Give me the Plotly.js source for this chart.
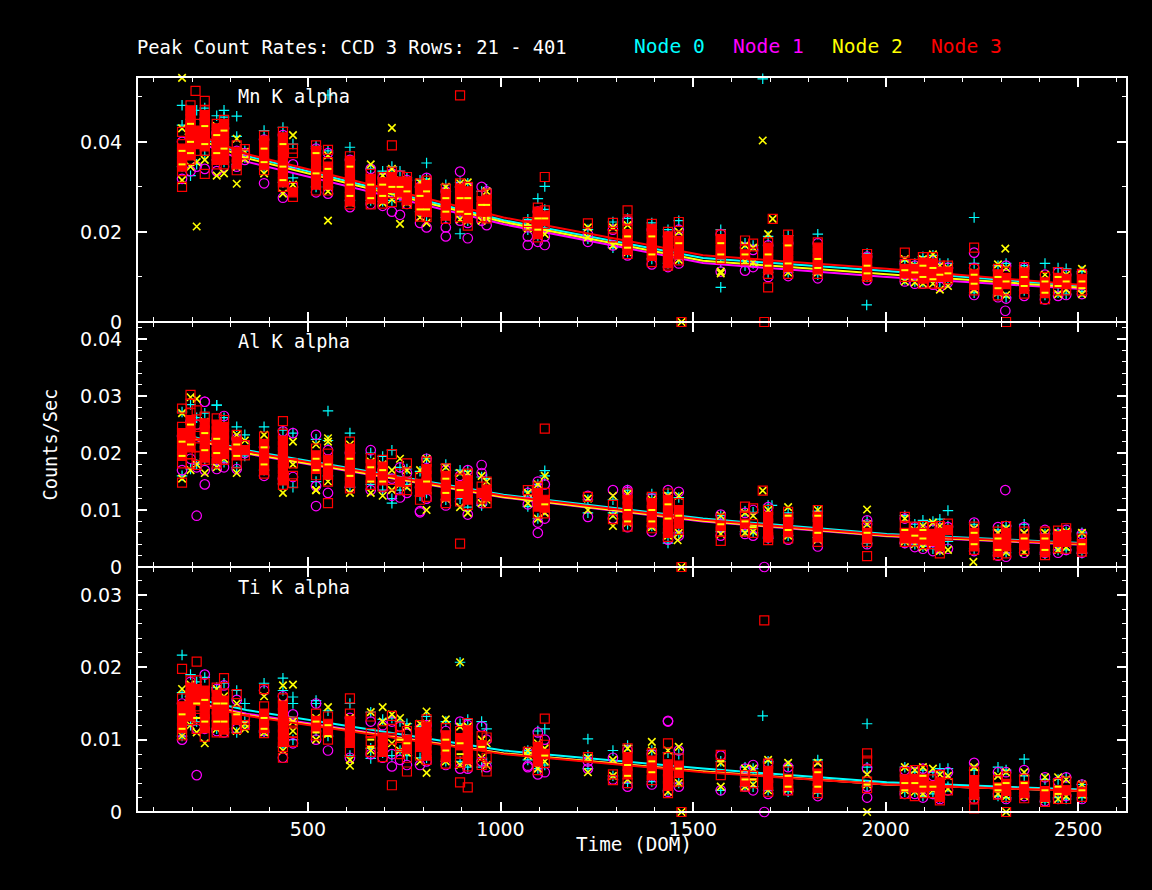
<!DOCTYPE html>
<html><head><meta charset="utf-8"><script src="https://cdn.plot.ly/plotly-3.0.1.min.js"></script>
<style>html,body{margin:0;background:#000}</style></head><body><div id="c" style="width:1152px;height:890px"></div>
<script>
// observation days (DOM) of the columns of points
const cols=[173,195,211,232,263,282,315,336,386,435,461,521,552,609,663,694,718,739,757,791,808,858,895,915,951,964,1071,1097,1115,1227,1292,1330,1393,1435,1463,1572,1635,1656,1695,1747,1824,1952,2050,2076,2097,2123,2141,2162,2230,2292,2313,2360,2414,2448,2469,2510];
// all rates below are in units of 1e-4 counts/sec
const mnNode0=[[437,345],[450,325],[470,350],[475,370],[458,360],[455,355],[412,350],[380,365],[425,340],[432,310],[395,320],[390,300],[380,300],[388,270],[340,270],[335,268],[345,270],[335,280],[320,270],[315,245],[318,235],[305,232],[310,240],[308,225],[290,235],[295,240],[228,205],[274,192],[250,205],[205,185],[222,165],[230,155],[220,140],[205,130],[225,140],[205,132],[175,125],[170,130],[190,110],[192,110],[195,105],[152,100],[135,95],[130,90],[145,90],[148,92],[130,88],[130,95],[130,65],[125,60],[130,55],[125,70],[130,60],[120,65],[118,62],[112,68]];
const mnNode1=[[400,318],[430,335],[420,345],[450,340],[420,335],[430,345],[380,345],[375,360],[405,308],[415,276],[350,300],[385,288],[375,285],[360,255],[340,262],[320,258],[330,245],[325,238],[315,262],[300,220],[320,210],[290,210],[300,225],[300,220],[300,225],[290,215],[215,190],[245,178],[225,190],[195,178],[205,170],[225,148],[205,128],[190,122],[205,130],[195,112],[165,114],[160,122],[170,100],[175,102],[175,97],[145,93],[130,90],[125,85],[130,85],[135,83],[120,78],[120,88],[120,60],[115,55],[125,52],[120,58],[105,50],[110,58],[105,60],[108,62]];
const mnNode2=[[430,315],[445,345],[405,355],[440,360],[435,325],[430,330],[407,345],[378,362],[395,330],[400,285],[415,305],[375,305],[370,290],[345,265],[350,270],[325,265],[340,272],[315,280],[310,265],[310,232],[312,220],[300,235],[308,228],[310,225],[270,225],[290,230],[218,208],[240,205],[235,195],[210,188],[210,170],[215,155],[205,150],[190,130],[200,138],[178,112],[170,135],[165,132],[195,115],[170,110],[165,110],[138,100],[140,90],[125,88],[140,85],[150,85],[125,72],[120,80],[110,72],[128,65],[120,60],[115,72],[105,70],[100,62],[105,72],[118,62]];
const mnNode3=[[422,395,385,375,365,355,345,335,300],[481,470,460,450,440,430,420,410,400,390,380,370,360],[440,425,410,395,380],[491,470,460,450,440,430,420,410,400,390,380,329],[440,430,420,410,400,390,380,370,360,350],[449,440,430,420,410,400,390,380,370,360,350],[392,378,366,350,337],[384,372],[414,403,392,381,370,359,348,337],[422,410,400,390,380,370,360,350,340,330,320,310,300],[385,375,300,288,278],[392,380,366,350,335,320,305,292],[382,355,345,335,325,315,305,292],[368,358,348,338,328,318,308,298,288,278,268,261],[329,318,307,296,285,274,261],[322,310,298,286,274,263],[392,334,322,310,298,286,266],[325,312,300,288,277],[322,312,298,284,270,262],[308,296,284,272,260,248,234],[314,304,294,284,274,264,254,244,233],[296,284,272,260,248,236,229],[308,296,284,272,260,248,233],[300,290,280,270,260,250,240,230,214],[281,268,255,245,233],[285,272,258,245,230],[222,214],[254,245,235,225,215,205,195,188],[248,236,226,218],[219],[220,195,188],[248,225,207,195,183,171,160,151],[218,207,197,187,177,167,157,147,133],[200,190,180,170,160,150,140,130,125],[222,192,180,170,160,150,137],[194,184,172,160,150,140],[181,162,150,137],[174,148],[177,165,153,141,129,117,107],[194,182,172,160,148,136,122,107],[177,165,153,141,129,117,107],[151,140,128,116,104,100],[154,129,118,108,100],[129,118,108,100],[144,132,120,108,96,85],[144,130,116,100,85],[125,112,100,85],[125,112,100,95],[118,106,94,82,70],[118,106,94,82,70,59],[112,98,84,70],[122,110,98,86,74,63],[100,88,76,64,51],[111,98,86,70],[107,96,84,70],[107,96,84,70]];
const alNode0=[[272,160],[285,172],[262,180],[270,190],[284,180],[262,184],[246,175],[232,195],[246,170],[240,146],[235,140],[224,150],[222,160],[235,140],[200,145],[194,135],[205,120],[175,135],[172,145],[168,125],[190,130],[180,118],[170,120],[168,105],[158,108],[155,118],[132,106],[145,85],[160,100],[118,95],[118,95],[135,75],[128,72],[130,60],[122,60],[90,62],[98,62],[96,60],[108,50],[95,55],[98,52],[80,42],[90,42],[75,40],[82,36],[80,32],[84,30],[72,45],[75,32],[65,25],[72,25],[75,32],[58,22],[60,30],[62,30],[60,24]];
const alNode1=[[230,170],[255,190],[250,175],[290,170],[225,172],[265,175],[225,172],[215,200],[210,160],[238,155],[235,158],[232,142],[205,130],[200,140],[205,135],[170,140],[155,125],[175,122],[165,130],[140,98],[190,120],[170,108],[160,115],[170,92],[165,112],[135,128],[130,110],[150,78],[145,85],[125,88],[135,85],[135,70],[120,62],[135,48],[132,55],[92,55],[95,58],[100,55],[105,52],[85,48],[90,36],[75,40],[85,42],[70,35],[65,32],[65,28],[68,32],[70,32],[78,28],[70,20],[72,18],[70,25],[65,25],[58,25],[65,30],[58,25]];
const alNode2=[[270,155],[298,170],[295,180],[255,165],[250,175],[240,190],[232,165],[222,205],[232,170],[215,130],[220,180],[215,135],[220,150],[215,130],[185,130],[180,125],[170,135],[190,145],[170,140],[170,130],[190,100],[175,120],[165,105],[165,95],[160,112],[150,118],[130,112],[145,85],[160,95],[120,100],[125,90],[128,78],[118,70],[125,55],[125,60],[90,58],[95,60],[90,62],[100,55],[105,55],[100,48],[75,48],[85,45],[65,40],[72,35],[78,42],[72,28],[65,30],[68,40],[60,30],[68,26],[60,26],[60,30],[60,30],[62,35],[60,30]];
const alNode3=[[278,246,235,225,215,205,195,182,148],[302,287,270,258,246,234,222,210,198,182],[275,250,230,210,195,179],[264,252,240,228,216,204,192,188],[261,250,238,226,214,202,190,182],[258,246,234,222,210,198,188],[232,220,208,196,182],[214,205,196],[229,216,204,192,180,170,164],[256,234,222,212,202,192,182,172,162,152,144],[182,160,147],[208,196,184,172,161],[199,188,176,162,150],[220,208,196,184,172,160,148,138],[191,180,168,156,144],[188,176,164,152,141],[198,153,143],[164,150,135],[182,150,135],[158,146,132,118],[185,172,160,148,136,123],[173,160,148,136,124,112],[155,142,130,115],[164,152,140,128,118,109],[141,130,120],[150,136,124,112],[135],[141,130,118,106,94],[130,118,104,94],[123],[109,84],[129,118,106,94,82,71],[123,112,100,88,78,68],[129,118,106,94,82,70,60,53],[112,100,88,76,65],[85,72,62],[106,88,76,62],[103,75,60],[100,88,76,64,52,47],[97,85,73,61,50],[100,88,76,64,52,44],[71,60,50,44],[88,71,60,50,44],[71,60,50,45],[72,60,48,40],[70,58,46,40],[72,60,48,36,24],[76,65,55],[71,60,48,36,30],[62,50,38,26,21],[72,60,48,36,24],[62,50,38,30],[62,50,38,26,21],[64,54,44,33],[68,56,44,32],[50,40,32,27]];
const tiNode0=[[165,105],[190,120],[180,125],[186,130],[172,115],[178,115],[168,110],[150,125],[178,110],[168,90],[150,100],[150,112],[140,105],[150,78],[138,88],[128,82],[130,78],[125,85],[122,78],[118,75],[132,75],[125,70],[122,70],[128,62],[125,62],[115,68],[85,72],[112,60],[115,65],[78,60],[85,50],[92,40],[85,42],[82,30],[80,40],[70,30],[62,35],[60,35],[70,30],[64,28],[72,26],[62,36],[62,28],[55,28],[58,22],[55,25],[60,20],[60,35],[58,20],[62,22],[58,20],[50,26],[45,14],[45,20],[48,18],[38,20]];
const tiNode1=[[150,100],[180,135],[170,115],[190,115],[170,112],[175,110],[155,115],[130,120],[168,112],[160,75],[135,95],[150,100],[120,85],[130,75],[125,80],[120,75],[125,80],[118,72],[108,65],[115,65],[120,70],[112,65],[125,60],[120,60],[118,70],[100,62],[82,62],[110,52],[100,55],[70,60],[75,45],[85,35],[80,38],[125,28],[85,35],[78,30],[60,35],[65,30],[68,25],[62,30],[60,22],[60,35],[58,25],[55,25],[60,20],[50,25],[52,18],[55,30],[68,18],[55,25],[55,18],[58,22],[48,15],[42,18],[48,22],[38,18]];
const tiNode2=[[170,105],[176,120],[165,110],[150,95],[170,115],[160,112],[150,112],[122,115],[160,110],[150,85],[125,112],[130,100],[145,108],[130,72],[138,85],[125,88],[135,95],[130,85],[118,82],[122,70],[122,80],[128,70],[118,65],[118,68],[100,75],[95,65],[85,78],[95,60],[88,70],[75,55],[72,50],[88,45],[85,55],[85,28],[90,40],[68,35],[60,35],[60,38],[72,30],[68,32],[68,30],[52,38],[62,30],[58,28],[62,25],[60,30],[52,22],[50,32],[62,22],[50,25],[55,22],[55,22],[48,18],[48,18],[45,22],[38,24]];
const tiNode3=[[157,146,136,126,116,106],[182,172,162,152,142,132,127],[182,170,158,146,130,115],[178,168,158,148,138,128,116,104],[172,162,152,142,132,120,110],[185,164,154,144,134,124,114,110],[163,140,128,115],[128,120],[170,146,136,126,116,109],[157,147,137,127,117,107,97,90,75],[125,110,97],[136,126,116,106],[132,122,112,100],[157,136,126,116,106,96,83],[132,109,98,83],[113,103,93,83,76],[133,115,100],[118,105,90,80],[112,100,88,75],[120,110,100,90,78],[128,118,108,98,88,78,72],[116,106,96,86,76,67],[112,102,92,82,68],[123,113,103,93,83,73,63],[105,92,80,65],[103,75,56],[83],[100,90,80,70,58],[93,80,68],[76],[52,44],[88,76,64,52,40],[81,71,61,51,44],[95,76,66,56,46,36,26],[74,64,54,42],[79,63,51],[51,42,35],[50,40],[67,57,47,37,28],[56,46,36,30],[63,53,43,33,26],[81,71,42,33],[55,45,35,25],[58,46,34,22],[58,46,34,26],[45,36,26],[51,41,31,21,16],[40,30],[56,44,34,24,19,5],[44,34,24],[49,39,29,21],[46,36,26,19],[37,29,21,14],[40,30,18],[42,30,18],[35,28,21]];
// yellow points seen through the red bars
const mnFlecks=[[380,350],[440,400,375],[],[435,395],[415,375],[425,385],[],[],[385,355],[395,345,315],[],[375,330],[340],[345,305,280],[305,275],[305,280],[300],[300],[290],[280,250],[290,250],[275,245],[275,245],[275,240],[260],[260],[],[230,205],[230],[],[],[190,165],[190,150],[],[175],[175,150],[150],[],[150,125],[170,130],[140,120],[125,108],[115],[110],[125,100],[120,95],[105],[108],[105,85],[100,75],[90],[100,80],[90,65],[100,80],[90],[90,75]];
const alFlecks=[[220,195],[250,215],[],[235,205],[225,200],[],[215,195],[],[210,180],[],[],[190,170],[180],[190,160],[175,150],[170,150],[],[],[],[],[150],[155,130],[135],[],[],[],[],[],[110],[],[],[100,80],[100,80],[110,85],[90],[75],[80],[70],[],[90,65],[90,60],[60],[65],[55],[65,50],[],[],[],[60,40],[50,30],[],[50],[50,30],[],[],[40]];
const tiFlecks=[[135,115],[],[150,130],[155,125],[150,125],[150,125],[135],[],[130,115],[],[],[125,110],[120,105],[],[100,90],[],[],[100],[95],[],[],[100,85],[95,80],[],[90],[],[],[],[78],[],[],[65,50],[70,55],[],[60],[70],[45],[45],[],[50,35],[55,35],[38],[40,30],[40],[50,35],[35],[],[],[],[38,30],[40],[40],[30],[35,25],[],[30]];
// isolated points: node, day, rate
const mnOutliers=[[2,173,542],[3,208,513],[0,173,481],[0,282,470],[0,315,457],[0,552,504],[2,718,431],[0,808,353],[2,211,212],[2,552,225],[2,315,307],[2,739,218],[1,895,334],[1,858,190],[1,915,186],[0,895,196],[3,895,503],[3,1115,322],[0,1115,301],[1,1071,171],[1,1115,171],[0,1681,540],[2,1681,403],[0,1572,77],[2,1572,108],[2,1707,229],[3,1707,229],[3,1695,77],[0,2230,232],[3,2230,165],[1,2230,154],[2,2311,163],[0,1951,38],[1,2311,25],[3,1470,0],[2,1470,0],[3,1685,0],[3,2313,0]];
const alOutliers=[[1,211,90],[1,232,145],[1,232,290],[0,263,284],[0,552,274],[2,552,226],[1,521,107],[1,951,179],[1,1097,60],[3,895,41],[0,1115,169],[1,791,96],[2,1292,72],[1,1330,132],[0,718,112],[2,521,135],[3,552,112],[3,1115,243],[1,2311,135],[2,2228,9],[3,1952,19],[0,2162,99],[2,1952,101],[0,1435,42],[2,1460,47],[1,1952,82],[3,1681,134],[2,1681,134],[3,1572,46],[3,1470,0],[2,1470,0],[1,1685,0],[0,1705,108]];
const tiOutliers=[[0,173,217],[3,173,198],[3,211,208],[1,211,51],[0,895,207],[2,895,207],[2,461,176],[0,435,185],[2,435,175],[2,694,145],[2,808,139],[0,461,159],[0,521,154],[0,1227,101],[2,609,64],[0,663,74],[3,718,37],[3,757,56],[2,808,54],[3,895,41],[3,915,34],[1,718,63],[3,1115,129],[1,1071,64],[0,1681,133],[0,1952,122],[1,1435,126],[3,1685,265],[1,1685,0],[2,1952,0],[3,1470,0],[2,1470,0],[3,2313,0],[2,2313,0],[0,2360,73],[2,1393,97],[1,1952,20]];
// fitted trend lines
const lineDays=[180,340,1008,1526,2003,2510];
const mnLines=[[425,369,226,142,113,80],[412,356,217,131,100,73],[418,364,222,136,106,76],[428,373,232,148,118,82]];
const alLines=[[232,205,127,85,58,42],[228,199,122,80,54,39],[229,200,123,81,55,40],[231,203,125,83,56,41]];
const tiLines=[[160,141,85,60,41,31],[155,136,81,56,38,29],[154,134,81,56,38,29],[152,133,80,55,38,29]];
const nodeNames=['Node 0','Node 1','Node 2','Node 3'];
const nodeColors=['#00ffff','#ff00ff','#ffff00','#ff0000'];
const nodeSymbols=['cross-thin-open','circle-open','x-thin-open','square-open'];
const nodeSizes=[7.5,9.5,7.5,9];
const nodeWidths=[1.2,1.2,1.6,1.2];
const xTickVals=[500,1000,1500,2000,2500];

const panels=[
 {nodes:[mnNode0,mnNode1,mnNode2,mnNode3],out:mnOutliers,flecks:mnFlecks,lines:mnLines,xa:'x',ya:'y',gap:17},
 {nodes:[alNode0,alNode1,alNode2,alNode3],out:alOutliers,flecks:alFlecks,lines:alLines,xa:'x2',ya:'y2',gap:15},
 {nodes:[tiNode0,tiNode1,tiNode2,tiNode3],out:tiOutliers,flecks:tiFlecks,lines:tiLines,xa:'x3',ya:'y3',gap:13}];
const data=[];
panels.forEach(p=>{
 [0,1,2,3].forEach(n=>{
  const xs=[],ys=[],syms=[];
  p.nodes[n].forEach((vals,i)=>vals.forEach((v,k)=>{xs.push(cols[i]);ys.push(v*1e-4);
    // a run of closely stacked squares merges into a solid bar
    const inner=n===3&&k>0&&k<vals.length-1&&vals[k-1]-v<=p.gap&&v-vals[k+1]<=p.gap;
    syms.push(inner?'square':nodeSymbols[n]);}));
  p.out.filter(o=>o[0]===n).forEach(o=>{xs.push(o[1]);ys.push(o[2]*1e-4);syms.push(nodeSymbols[n]);});
  data.push({type:'scatter',mode:'markers',x:xs,y:ys,xaxis:p.xa,yaxis:p.ya,name:nodeNames[n],showlegend:false,hoverinfo:'skip',cliponaxis:false,
   marker:{symbol:syms,size:nodeSizes[n],color:nodeColors[n],line:{color:nodeColors[n],width:nodeWidths[n]}}});
  data.push({type:'scatter',mode:'lines',x:lineDays,y:p.lines[n].map(v=>v*1e-4),xaxis:p.xa,yaxis:p.ya,showlegend:false,hoverinfo:'skip',
   line:{color:nodeColors[n],width:2}});
 });
 const fx=[],fy=[];
 p.flecks.forEach((vals,i)=>vals.forEach(v=>{fx.push(cols[i]);fy.push(v*1e-4);}));
 data.push({type:'scatter',mode:'markers',x:fx,y:fy,xaxis:p.xa,yaxis:p.ya,name:nodeNames[2],showlegend:false,hoverinfo:'skip',
  marker:{symbol:'line-ew-open',size:5,color:nodeColors[2],line:{color:nodeColors[2],width:2}}});
});
const SANS='"DejaVu Sans"',MONO='"DejaVu Sans Mono"';
const axisBase={color:'#fff',linecolor:'#fff',linewidth:1,mirror:'all',showgrid:false,zeroline:false,ticks:'inside',tickcolor:'#fff',tickwidth:2,ticklen:10,
 ticklabelstandoff:10,tickfont:{family:SANS,size:19,color:'#fff'}};
const xa=(extra)=>Object.assign({},axisBase,{range:[56,2627],tickmode:'array',tickvals:xTickVals,showticklabels:false,ticklabelstandoff:0,minor:{dtick:100,ticks:'inside',ticklen:5,tickwidth:1,tickcolor:'#fff'}},extra);
const ya=(extra,minorStep)=>Object.assign({},axisBase,{minor:{dtick:minorStep,ticks:'inside',ticklen:5,tickwidth:1,tickcolor:'#fff'}},extra);
const text=(t,x,y,c,s)=>({text:t,xref:'paper',yref:'paper',x:(x-137)/990,y:(812-y)/735,xanchor:'left',yanchor:'middle',showarrow:false,font:{family:MONO,size:s||18.6,color:c||'#fff'}});
const layout={width:1152,height:890,paper_bgcolor:'#000',plot_bgcolor:'#000',margin:{l:137,r:25,t:77,b:78},showlegend:false,
 title:{text:'Peak Count Rates: CCD 3 Rows: 21 - 401',x:137/1152,xanchor:'left',y:1-47/890,yanchor:'middle',xref:'container',yref:'container',font:{family:MONO,size:18.8,color:'#fff'}},
 xaxis:xa({domain:[0,1],anchor:'y'}),
 xaxis2:xa({domain:[0,1],anchor:'y2'}),
 xaxis3:xa({domain:[0,1],anchor:'y3',showticklabels:true}),
 yaxis:ya({domain:[2/3,1],range:[0,0.0544],dtick:0.02,anchor:'x'},0.01),
 yaxis2:ya({domain:[1/3,2/3],range:[0,0.043],dtick:0.01,anchor:'x2',title:{text:'Counts/Sec',standoff:17,font:{family:MONO,size:18.6,color:'#fff'}}},0.002),
 yaxis3:ya({domain:[0,1/3],range:[0,0.03387],dtick:0.01,anchor:'x3'},0.002),
 shapes:[{type:'rect',xref:'paper',yref:'paper',x0:0,x1:1,y0:0,y1:1,line:{color:'#fff',width:2}}],
 annotations:[text('Mn K alpha',236,96),text('Al K alpha',236,342),text('Ti K alpha',236,587),text('Time (DOM)',574,844,'#fff',19.3),
  text('Node 0',632,47,nodeColors[0],19.6),text('Node 1',731,47,nodeColors[1],19.6),text('Node 2',830,47,nodeColors[2],19.6),text('Node 3',929,47,nodeColors[3],19.6)]};
Plotly.newPlot('c',data,layout,{displayModeBar:false,staticPlot:true});
</script></body></html>
